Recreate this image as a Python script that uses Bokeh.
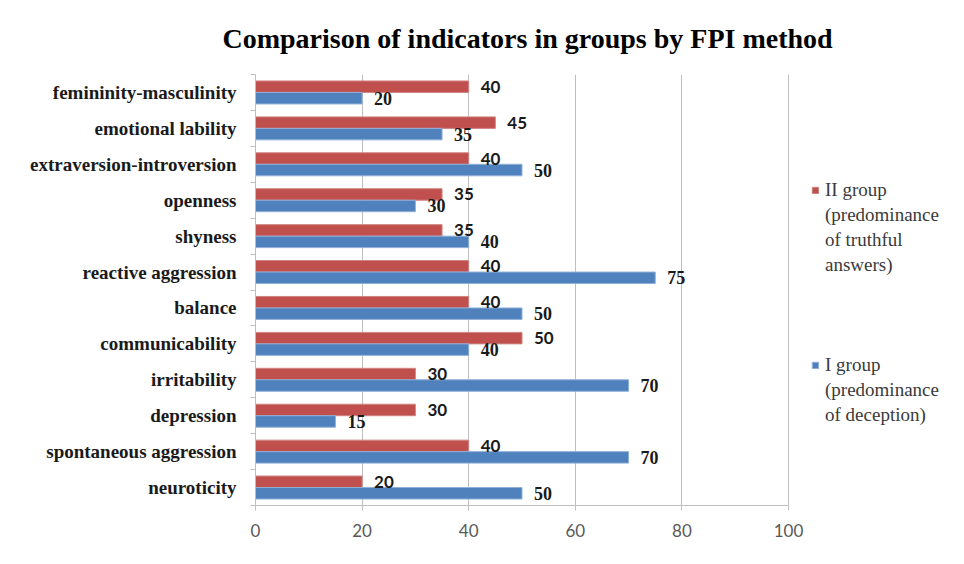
from bokeh.plotting import figure
from bokeh.models import (ColumnDataSource, FixedTicker, Range1d, Legend, LegendItem)
from bokeh.transform import dodge
from bokeh.core.properties import value
from bokeh.embed import file_html
from bokeh.resources import INLINE

categories = ["femininity-masculinity", "emotional lability", "extraversion-introversion",
              "openness", "shyness", "reactive aggression", "balance", "communicability",
              "irritability", "depression", "spontaneous aggression", "neuroticity"]
group2 = [40, 45, 40, 35, 35, 40, 40, 50, 30, 30, 40, 20]   # II group (truthful)
group1 = [20, 35, 50, 30, 40, 75, 50, 40, 70, 15, 70, 50]   # I group (deception)
x_ticks = [0, 20, 40, 60, 80, 100]
legend_labels = ["II group\n(predominance\nof truthful\nanswers)",
                 "I group\n(predominance\nof deception)"]
title_text = "Comparison of indicators in groups by FPI method"

W, H = 964, 564
BL, BR, BT, BB = 255, 10, 73, 59
FW = W - BL - BR
AXIS_PX = 533                      # pixel length of the 0..100 value axis
x_end = x_ticks[-1] * FW / AXIS_PX  # frame extends right to hold the legend

n = len(categories)
ypos = [n - 0.5 - i for i in range(n)]
src = ColumnDataSource(dict(cat=categories, y=ypos, g1=group1, g2=group2,
                            l1=[str(v) for v in group1], l2=[str(v) for v in group2]))

p = figure(width=W, height=H, x_range=Range1d(0, x_end), y_range=Range1d(0, n),
           output_backend="svg", toolbar_location=None,
           min_border_left=BL, min_border_right=BR, min_border_top=BT, min_border_bottom=BB)
p.outline_line_color = None

RED = "#C0504D"
BLUE = "#4F81BD"
r2 = p.hbar(y=dodge('y', 0.16, range=p.y_range), left=0, right='g2', height=0.32, source=src,
            fill_color=RED, line_color="#D08583", line_width=1)
r1 = p.hbar(y=dodge('y', -0.16, range=p.y_range), left=0, right='g1', height=0.32, source=src,
            fill_color=BLUE, line_color="#8FB0D8", line_width=1)

p.text(x='g2', y=dodge('y', 0.16, range=p.y_range), text='l2', source=src, x_offset=12,
       text_baseline="middle", text_align="left", text_font=value("Lato"),
       text_font_style="bold", text_font_size="17px", text_color="#1a1a1a")
p.text(x='g1', y=dodge('y', -0.16, range=p.y_range), text='l1', source=src, x_offset=12,
       text_baseline="middle", text_align="left", text_font=value("Liberation Serif"),
       text_font_style="bold", text_font_size="18px", text_color="#1a1a1a")

# y axis
p.yaxis.ticker = FixedTicker(ticks=ypos, minor_ticks=list(range(n + 1)))
p.yaxis.major_label_overrides = {y: c for y, c in zip(ypos, categories)}
p.yaxis.major_tick_line_color = None
p.yaxis.major_tick_out = 0
p.yaxis.minor_tick_line_color = "#bfbfbf"
p.yaxis.minor_tick_out = 5
p.yaxis.minor_tick_in = 0
p.yaxis.axis_line_color = "#bfbfbf"
p.yaxis.major_label_standoff = 14
p.yaxis.major_label_text_font = "Liberation Serif"
p.yaxis.major_label_text_font_style = "bold"
p.yaxis.major_label_text_font_size = "19px"
p.yaxis.major_label_text_color = "#1a1a1a"

# x axis
p.xaxis.ticker = FixedTicker(ticks=x_ticks, minor_ticks=[])
p.xaxis.bounds = (x_ticks[0], x_ticks[-1])
p.xaxis.axis_line_color = "#bfbfbf"
p.xaxis.major_tick_line_color = "#bfbfbf"
p.xaxis.major_tick_out = 5
p.xaxis.major_tick_in = 0
p.xaxis.major_label_standoff = 13
p.xaxis.major_label_text_font = "Lato"
p.xaxis.major_label_text_font_size = "17px"
p.xaxis.major_label_text_color = "#595959"

p.ygrid.grid_line_color = None
p.xgrid.ticker = FixedTicker(ticks=x_ticks, minor_ticks=[])
p.xgrid.grid_line_color = "#bfbfbf"

# title (left-aligned with an offset so that it sits centred over the value axis)
p.title.text = title_text
p.title.align = "left"
p.title.offset = -33
p.title.text_font = "Liberation Serif"
p.title.text_font_size = "28px"
p.title.text_font_style = "bold"
p.title.text_color = "#000000"
p.title.text_line_height = 1.0
p.title.standoff = 41

# legend: one legend row per text line; the glyph sits on each entry's first line
items = []
for k, (s, r) in enumerate(zip(legend_labels, [r2, r1])):
    lines = s.split("\n")
    items.append(LegendItem(label=lines[0], renderers=[r]))
    for line in lines[1:]:
        items.append(LegendItem(label=line, renderers=[]))
    if k == 0:
        for _ in range(3):
            items.append(LegendItem(label=" ", renderers=[]))

legend = Legend(items=items, location=(AXIS_PX + 23, 78), glyph_width=8, glyph_height=8,
                label_standoff=6, label_height=25, label_text_font="Liberation Serif",
                label_text_font_size="19px", label_text_color="#3a3a3a",
                border_line_color=None, background_fill_alpha=0, padding=0, margin=0,
                spacing=0)
p.add_layout(legend, "center")

open("out.html", "w").write(file_html(p, INLINE))
